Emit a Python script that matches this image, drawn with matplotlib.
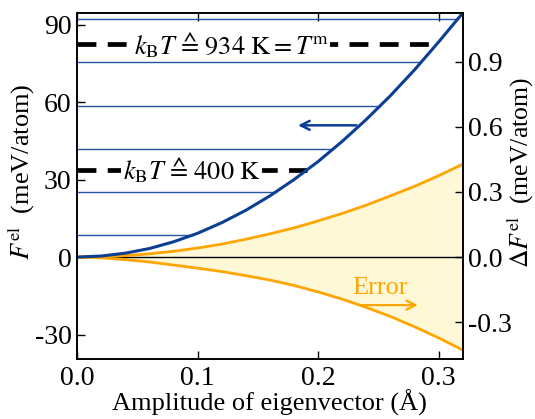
import matplotlib
matplotlib.use("Agg")
import matplotlib.pyplot as plt
import numpy as np

plt.rcParams['font.family'] = ['Liberation Serif', 'DejaVu Serif']
plt.rcParams['mathtext.fontset'] = 'stix'
plt.rcParams['axes.unicode_minus'] = False

# amplitude of eigenvector (Angstrom)
amp = [0.00, 0.02, 0.04, 0.06, 0.08, 0.10, 0.12, 0.14, 0.16,
       0.18, 0.20, 0.22, 0.24, 0.26, 0.28, 0.30, 0.32]
# electronic free energy (meV/atom)
f_el = [0.0, 0.4, 1.5, 3.3, 5.9, 9.2, 13.3, 18.1, 23.7,
        30.0, 37.0, 44.8, 53.3, 62.5, 72.5, 83.3, 94.5]
# error band (meV/atom, left scale)
err_up = [0.0, 0.14, 0.56, 1.26, 2.24, 3.5, 5.0, 6.9, 9.0,
          11.3, 14.0, 16.9, 20.1, 23.7, 27.4, 31.5, 36.0]
err_lo = [0.0, -0.3, -1.0, -1.9, -3.1, -4.3, -5.6, -7.2, -8.9,
          -11.0, -13.5, -16.3, -19.5, -23.0, -27.0, -31.3, -36.0]
# horizontal guide levels (meV/atom)
levels = [8.5, 25.2, 41.8, 58.6, 75.4, 92.1]
# k_B T markers
kt_vals = [82.3, 33.8]
kt_labels = [r'$k_\mathrm{B}T\ ≙\ 934\ \mathrm{K} = T^\mathrm{m}$',
             r'$k_\mathrm{B}T\ ≙\ 400\ \mathrm{K}$']
kt_text_x = [0.128, 0.095]

blue = '#0b3f94'
orange = '#ffa500'
scale = 84.0  # left / right axis ratio

fig = plt.figure(figsize=(5.35, 4.19), dpi=100)
ax = fig.add_axes([0.144, 0.143, 0.721, 0.826])

ax.fill_between(amp, err_lo, err_up, color='#fff8d6', lw=0, zorder=1)
ax.axhline(0, color='black', lw=1.0, zorder=2)

for lv in levels:
    xe = np.interp(lv, f_el, amp)
    ax.plot([0, xe], [lv, lv], color='#2456a6', lw=1.0, zorder=2)

for val, lab, tx in zip(kt_vals, kt_labels, kt_text_x):
    xe = np.interp(val, f_el, amp)
    ax.plot([0, xe], [val, val], color='black', lw=3.4,
            dashes=(4, 2.4), zorder=3)
    ax.text(tx, val, lab, fontsize=19, ha='center', va='center', zorder=4,
            bbox=dict(facecolor='white', edgecolor='none', pad=1.0))

ax.plot(amp, err_up, color=orange, lw=2.0, zorder=4)
ax.plot(amp, err_lo, color=orange, lw=2.0, zorder=4)
ax.plot(amp, f_el, color=blue, lw=2.2, zorder=5)

ax.annotate('', xy=(0.181, 51), xytext=(0.234, 51),
            arrowprops=dict(arrowstyle='->', color=blue, lw=1.8,
                            mutation_scale=16))
ax.annotate('', xy=(0.285, -18.6), xytext=(0.233, -18.6),
            arrowprops=dict(arrowstyle='->', color=orange, lw=1.6,
                            mutation_scale=16))
ax.text(0.251, -12.0, 'Error', color=orange, fontsize=19,
        ha='center', va='center')

ax.set_xlim(0, 0.32)
ax.set_ylim(-39.5, 94.5)
ax.set_xticks([0.0, 0.1, 0.2, 0.3])
ax.set_xticklabels(['0.0', '0.1', '0.2', '0.3'])
ax.set_yticks([-30, 0, 30, 60, 90])
ax.tick_params(axis='both', direction='in', length=6, width=1,
               labelsize=20, pad=4)
ax.tick_params(axis='x', top=True, pad=5)
ax.set_xlabel('Amplitude of eigenvector (Å)', fontsize=19, labelpad=-1)
ax.set_ylabel(r'$F^\mathrm{el}$  (meV/atom)', fontsize=19)
ax.yaxis.set_label_coords(-0.105, 0.54)

ax2 = ax.twinx()
ax2.set_ylim(-39.5 / scale, 94.5 / scale)
ax2.set_yticks([-0.3, 0.0, 0.3, 0.6, 0.9])
ax2.set_yticklabels(['-0.3', '0.0', '0.3', '0.6', '0.9'])
ax2.tick_params(axis='y', direction='in', length=6, width=1,
                labelsize=20, pad=4)
ax2.set_ylabel(r'$\Delta F^\mathrm{el}$  (meV/atom)', fontsize=18.5)
ax2.yaxis.set_label_coords(1.108, 0.54)

for a in (ax, ax2):
    for s in a.spines.values():
        s.set_linewidth(1.2)

fig.savefig('out.png', dpi=100)
